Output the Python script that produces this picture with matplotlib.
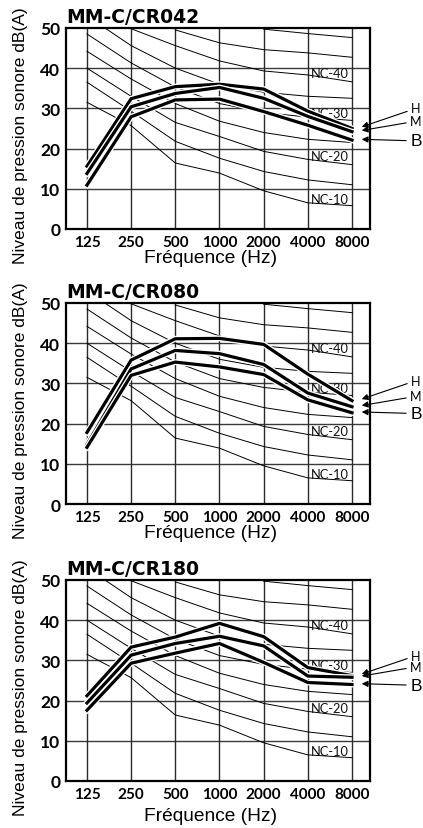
import matplotlib
matplotlib.use('Agg')
import matplotlib.pyplot as plt
import matplotlib.patheffects as pe
import numpy as np

# ---------------- data ----------------
freq_labels = ['125', '250', '500', '1000', '2000', '4000', '8000']
y_ticks = [0, 10, 20, 30, 40, 50]
titles = ['MM-C/CR042', 'MM-C/CR080', 'MM-C/CR180']
speed_labels = ['H', 'M', 'B']

# sound pressure levels dB(A) per octave band
cr042_h = [15.6, 32.4, 35.4, 36.0, 34.8, 29.3, 25.0]
cr042_m = [13.8, 30.4, 33.7, 35.2, 32.5, 28.0, 24.2]
cr042_b = [10.9, 27.9, 32.1, 32.3, 29.2, 25.8, 22.1]

cr080_h = [17.8, 35.8, 41.1, 41.2, 39.7, 32.3, 25.7]
cr080_m = [14.8, 33.6, 38.2, 37.4, 34.7, 27.6, 24.2]
cr080_b = [14.1, 32.0, 35.3, 34.1, 32.2, 25.9, 22.7]

cr180_h = [21.2, 33.3, 35.8, 39.2, 35.9, 28.2, 26.2]
cr180_m = [19.4, 31.3, 34.2, 36.0, 33.6, 26.1, 25.8]
cr180_b = [17.6, 29.3, 31.8, 34.2, 29.5, 24.5, 24.0]

# NC reference curves
nc10 = [31.5, 25.7, 16.4, 13.9, 9.5, 6.5, 5.8]
nc15 = [36.5, 29.3, 21.8, 17.6, 14.3, 12.2, 11.0]
nc20 = [40.0, 33.0, 26.5, 23.0, 19.3, 17.3, 16.0]
nc25 = [44.2, 37.3, 31.2, 26.8, 24.0, 22.3, 21.5]
nc30 = [48.5, 41.3, 35.3, 31.2, 29.0, 27.8, 27.0]
nc35 = [53.0, 45.6, 40.0, 36.0, 34.0, 33.0, 32.5]
nc40 = [np.nan, 49.8, 45.6, 41.8, 39.3, 38.3, 36.6]
nc45 = [np.nan, np.nan, 49.5, 46.3, 44.6, 43.8, 42.7]
nc50 = [np.nan, np.nan, np.nan, np.nan, 49.7, 48.6, 47.6]
nc_labels = ['NC-10', 'NC-20', 'NC-30', 'NC-40']

series = [(cr042_h, cr042_m, cr042_b),
          (cr080_h, cr080_m, cr080_b),
          (cr180_h, cr180_m, cr180_b)]
nc_curves = [nc10, nc15, nc20, nc25, nc30, nc35, nc40, nc45, nc50]
nc_labelled = [nc10, nc20, nc30, nc40]

# ---------------- figure ----------------
fig = plt.figure(figsize=(4.23, 8.29), dpi=100)
bottoms = [0.7226, 0.3908, 0.0567]
xlabel_offsets = [-0.1, -0.1, -0.128]
x = np.arange(len(freq_labels))

for k, (title, (h, m, b)) in enumerate(zip(titles, series)):
    ax = fig.add_axes([0.156, bottoms[k], 0.719, 0.2425])
    ax.set_xlim(-0.475, 6.41)
    ax.set_ylim(0, 50)

    # grid
    for yv in y_ticks[1:-1]:
        ax.axhline(yv, color='#3a3a3a', lw=1.0, zorder=1)
    for xv in x:
        ax.axvline(xv, color='#2a2a2a', lw=1.0, zorder=1)

    # NC curves
    for c in nc_curves:
        ax.plot(x, c, color='black', lw=0.7, zorder=2)
    for lab, c in zip(nc_labels, nc_labelled):
        yl = np.interp(5.5, x, c) + 1.4
        ax.text(5.5, yl, lab, ha='center', va='center', fontsize=9.3,
                family='Lato', color='#111111', zorder=3)

    # main curves
    halo = [pe.Stroke(linewidth=4.2, foreground='white'), pe.Normal()]
    for s in (h, m, b):
        ax.plot(x, s, color='black', lw=2.3, zorder=5,
                solid_joinstyle='miter', path_effects=halo)

    # H / M / B arrows
    tips = [h[-1] + 0.4, m[-1] + 0.3, b[-1] + 0.2]
    texts_y = [tips[0] + 4.6, tips[1] + 2.3, tips[2] - 0.4]
    for lab, ty, tt in zip(speed_labels, tips, texts_y):
        fs = 12.5 if lab == 'B' else 9
        fam = 'Liberation Sans' if lab == 'B' else 'Lato'
        ax.annotate(lab, xy=(6.22, ty), xytext=(7.45, tt), textcoords='data',
                    ha='center', va='center', fontsize=fs, family=fam,
                    annotation_clip=False,
                    arrowprops=dict(arrowstyle='-|>', color='black', lw=0.8,
                                    mutation_scale=9, shrinkA=1, shrinkB=0))

    ax.set_xticks(x)
    ax.set_xticklabels(freq_labels, fontsize=11, family='Lato', fontweight='bold')
    ax.set_yticks(y_ticks)
    ax.set_yticklabels([str(v) for v in y_ticks], fontsize=12.5, family='Lato',
                       fontweight='bold')
    ax.tick_params(axis='both', length=0)
    ax.tick_params(axis='x', pad=4)
    ax.tick_params(axis='y', pad=4)
    for sp in ax.spines.values():
        sp.set_linewidth(1.6)
        sp.set_color('black')

    ax.set_title(title, loc='left', fontsize=13.5, family='DejaVu Sans',
                 fontweight='bold', pad=4)
    ax.set_xlabel('Fréquence (Hz)', fontsize=13.8, family='Liberation Sans')
    ax.xaxis.set_label_coords(0.474, xlabel_offsets[k])
    ax.set_ylabel('Niveau de pression sonore dB(A)', fontsize=12.5,
                  family='Liberation Sans')
    ax.yaxis.set_label_coords(-0.125, 0.468)

fig.savefig('out.png', dpi=100)
